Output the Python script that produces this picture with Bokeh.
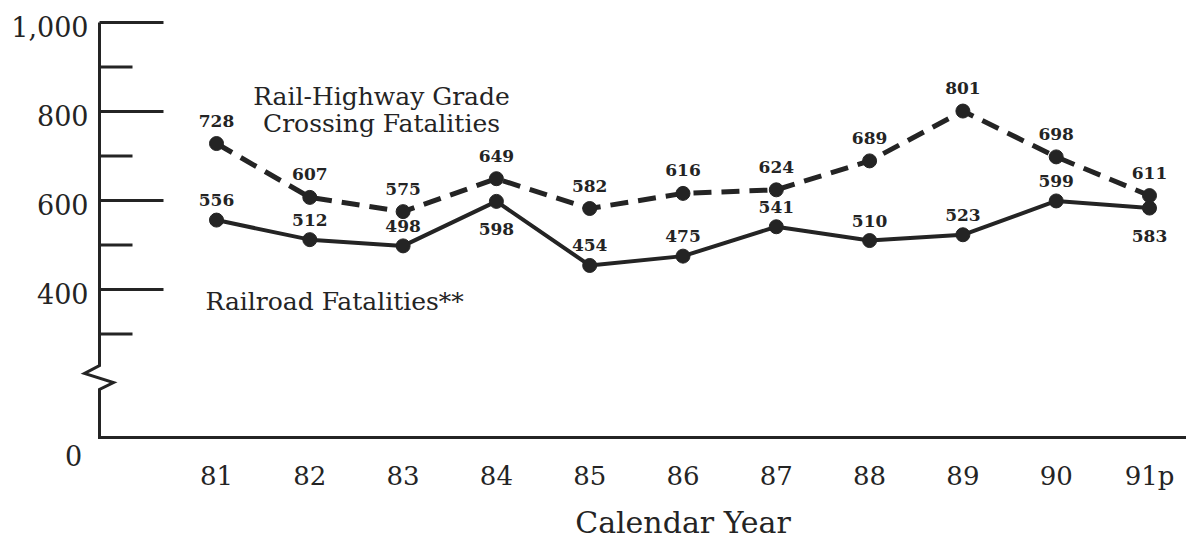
from bokeh.plotting import figure
from bokeh.models import Range1d, ColumnDataSource
from bokeh.core.properties import value
from bokeh.embed import file_html
from bokeh.resources import INLINE

# ---------------- data ----------------
years = ["81", "82", "83", "84", "85", "86", "87", "88", "89", "90", "91p"]
crossing_fatalities = [728, 607, 575, 649, 582, 616, 624, 689, 801, 698, 611]
railroad_fatalities = [556, 512, 498, 598, 454, 475, 541, 510, 523, 599, 583]
railroad_label_side = ["above", "above", "above", "below", "above", "above",
                       "above", "above", "above", "above", "below"]
y_major_ticks = [400, 600, 800, 1000]
y_major_labels = ["400", "600", "800", "1,000"]
y_minor_ticks = [300, 500, 700, 900]
y_zero_label = "0"
x_axis_title = "Calendar Year"
crossing_title = ["Rail-Highway Grade", "Crossing Fatalities"]
railroad_title = "Railroad Fatalities**"

# ---------------- layout helpers (image pixels -> data units) ----------------
W, H = 1186, 543
PAGE_OFF = 0.0                     # canvas origin in the photographed page
X_FIRST, X_STEP = 216.0, 93.3      # px of first category, px per category
Y_REF, PX_PER_UNIT = 22.0, 0.445   # px of value 1000, px per unit


def xd(px):
    return (px - X_FIRST) / X_STEP


def yd(py):
    return 1000 - (py - Y_REF) / PX_PER_UNIT


INK = "#242424"
FONT = value("DejaVu Serif")

p = figure(width=W, height=H, output_backend="svg", toolbar_location=None,
           x_axis_location=None, y_axis_location=None,
           x_range=Range1d(xd(PAGE_OFF), xd(PAGE_OFF + W)),
           y_range=Range1d(yd(PAGE_OFF + H), yd(PAGE_OFF)),
           min_border_left=0, min_border_right=0, min_border_top=0, min_border_bottom=0)
p.grid.visible = False
p.outline_line_color = None
p.background_fill_color = "white"
p.border_fill_color = "white"

# ---------------- broken y axis + x axis ----------------
xa = xd(99)
base = yd(437)          # where the (broken) axis reaches 0
axis_x = [xa, xa, xd(84), xd(113), xa, xa, xd(PAGE_OFF + W)]
axis_y = [1000, yd(365), yd(373), yd(382), yd(389), base, base]
p.line(axis_x, axis_y, line_color=INK, line_width=3, line_join="miter")

p.segment(x0=[xa] * len(y_major_ticks), y0=y_major_ticks,
          x1=[xa + 64 / X_STEP] * len(y_major_ticks), y1=y_major_ticks,
          line_color=INK, line_width=3)
p.segment(x0=[xa] * len(y_minor_ticks), y0=y_minor_ticks,
          x1=[xa + 33 / X_STEP] * len(y_minor_ticks), y1=y_minor_ticks,
          line_color=INK, line_width=3)

p.text(x=[xa] * len(y_major_ticks), y=y_major_ticks, text=y_major_labels,
       x_offset=-11, y_offset=4, text_align="right", text_baseline="middle",
       text_font=FONT, text_font_size="27px", text_color=INK)
p.text(x=[xd(73)], y=[base], text=[y_zero_label], y_offset=18,
       text_align="center", text_baseline="middle",
       text_font=FONT, text_font_size="27px", text_color=INK)

idx = list(range(len(years)))
p.text(x=idx, y=[base] * len(years), text=years, y_offset=38,
       text_align="center", text_baseline="middle",
       text_font=FONT, text_font_size="26px", text_color=INK)
p.text(x=[(len(years) - 1) / 2], y=[base], text=[x_axis_title], y_offset=85,
       text_align="center", text_baseline="middle",
       text_font=FONT, text_font_size="30px", text_color=INK)

# ---------------- series ----------------
src_c = ColumnDataSource(dict(x=idx, y=crossing_fatalities,
                              lab=[str(v) for v in crossing_fatalities],
                              off=[-23] * len(idx)))
src_r = ColumnDataSource(dict(x=idx, y=railroad_fatalities,
                              lab=[str(v) for v in railroad_fatalities],
                              off=[-20 if s == "above" else 28 for s in railroad_label_side]))

p.line("x", "y", source=src_c, line_color=INK, line_width=5, line_dash="18 10")
p.line("x", "y", source=src_r, line_color=INK, line_width=4)
p.scatter("x", "y", source=src_c, size=14, fill_color=INK, line_color=INK)
p.scatter("x", "y", source=src_r, size=14, fill_color=INK, line_color=INK)

for src in (src_c, src_r):
    p.text("x", "y", text="lab", y_offset="off", source=src,
           text_align="center", text_baseline="middle",
           text_font=FONT, text_font_size="17px", text_font_style="bold",
           text_color=INK)

# ---------------- series names ----------------
p.text(x=[xd(381), xd(381)], y=[yd(96), yd(123)], text=crossing_title,
       text_align="center", text_baseline="middle",
       text_font=FONT, text_font_size="25px", text_color=INK)
p.text(x=[xd(205)], y=[yd(301)], text=[railroad_title],
       text_align="left", text_baseline="middle",
       text_font=FONT, text_font_size="25px", text_color=INK)

open("out.html", "w").write(file_html(p, INLINE))
